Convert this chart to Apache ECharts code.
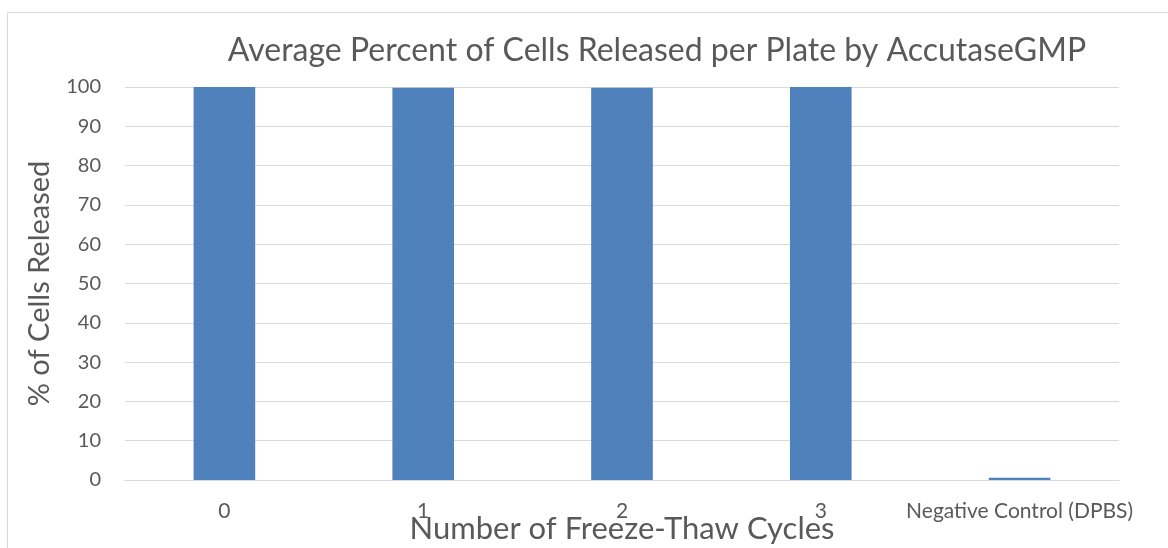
<!DOCTYPE html>
<html>
<head>
<meta charset="utf-8">
<script src="https://cdn.jsdelivr.net/npm/echarts@6/dist/echarts.min.js"></script>
<style>html,body{margin:0;padding:0;background:#fff;}#c{width:1168px;height:548px;}</style>
</head>
<body>
<div id="c"></div>
<script>
const categories = ['0', '1', '2', '3', 'Negative Control (DPBS)'];
const values = [100, 99.8, 99.8, 100, 0.6];
const yTicks = { min: 0, max: 100, interval: 10 };

const FONT = 'Lato';
const chart = echarts.init(document.getElementById('c'));
chart.setOption({
  animation: false,
  backgroundColor: '#fff',
  graphic: [{
    type: 'rect', shape: { x: 7.5, y: 12.5, width: 1200, height: 600 },
    style: { fill: 'none', stroke: '#d9d9d9', lineWidth: 1 }, silent: true, z: -1
  }],
  title: {
    text: 'Average Percent of Cells Released per Plate by AccutaseGMP',
    left: 652, top: 30, textAlign: 'center',
    textStyle: { fontFamily: FONT, fontSize: 32, fontWeight: 'normal', color: '#595959' }
  },
  grid: { left: 125, right: 49, top: 87, bottom: 68, outerBoundsMode: 'none', containLabel: false },
  xAxis: {
    type: 'category', data: categories,
    name: 'Number of Freeze-Thaw Cycles', nameLocation: 'middle', nameGap: 33, nameMoveOverlap: false,
    nameTextStyle: { fontFamily: FONT, fontSize: 31, color: '#595959' },
    axisLine: { lineStyle: { color: '#d9d9d9', width: 1 } },
    axisTick: { show: false },
    axisLabel: { fontFamily: FONT, fontSize: 21, color: '#595959', margin: 21, interval: 0 }
  },
  yAxis: {
    type: 'value', min: yTicks.min, max: yTicks.max, interval: yTicks.interval,
    name: '% of Cells Released', nameLocation: 'middle', nameGap: 71, nameRotate: 90, nameMoveOverlap: false,
    nameTextStyle: { fontFamily: FONT, fontSize: 29, color: '#595959' },
    axisLine: { show: false }, axisTick: { show: false },
    axisLabel: { fontFamily: FONT, fontSize: 20, color: '#595959', margin: 24 },
    splitLine: { lineStyle: { color: '#d9d9d9', width: 1 } }
  },
  series: [{
    type: 'bar', data: values, barWidth: '31%',
    itemStyle: { color: '#4f81bd' }
  }]
});
</script>
</body>
</html>
